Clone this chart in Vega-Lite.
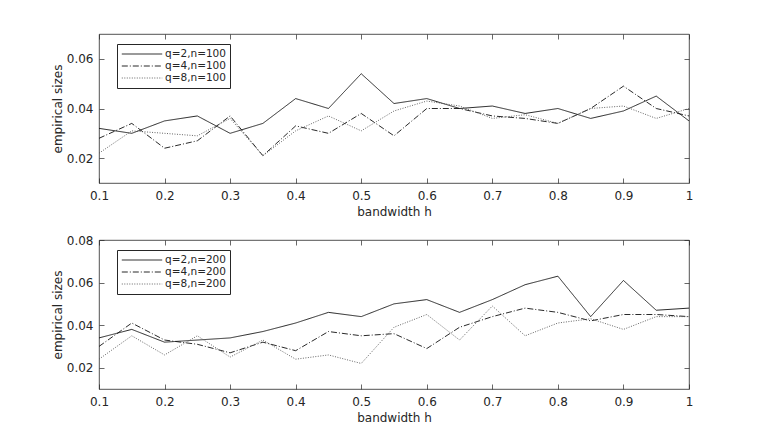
{
  "$schema": "https://vega.github.io/schema/vega-lite/v6.json",
  "padding": {"left": 50, "top": 33, "right": 10, "bottom": 5},
  "background": "white",
  "config": {
    "font": "DejaVu Sans",
    "view": {"stroke": "#262626", "strokeWidth": 0.8},
    "axis": {
      "grid": false, "domain": false, "tickColor": "#262626", "tickWidth": 0.7, "tickSize": -5, "labelFlush": false,
      "labelFontSize": 12, "labelColor": "#262626", "titleFontSize": 12, "titleFontWeight": "normal", "titleColor": "#262626"
    },
    "legend": {
      "orient": "none", "legendX": 18, "legendY": 10, "strokeColor": "#262626", "fillColor": "white",
      "padding": 4, "rowPadding": 0, "symbolType": "M-3.85,0H3.85", "symbolSize": 110, "symbolStrokeWidth": 0.9,
      "symbolOffset": 15, "labelFontSize": 10.5, "labelColor": "#262626", "labelOffset": 17, "title": null
    },
    "line": {"strokeWidth": 0.9}
  },
  "datasets": {
    "top": [
      {"h": 0.1, "series": "q=2,n=100", "size": 0.032}, {"h": 0.15, "series": "q=2,n=100", "size": 0.030},
      {"h": 0.2, "series": "q=2,n=100", "size": 0.035}, {"h": 0.25, "series": "q=2,n=100", "size": 0.037},
      {"h": 0.3, "series": "q=2,n=100", "size": 0.030}, {"h": 0.35, "series": "q=2,n=100", "size": 0.034},
      {"h": 0.4, "series": "q=2,n=100", "size": 0.044}, {"h": 0.45, "series": "q=2,n=100", "size": 0.040},
      {"h": 0.5, "series": "q=2,n=100", "size": 0.054}, {"h": 0.55, "series": "q=2,n=100", "size": 0.042},
      {"h": 0.6, "series": "q=2,n=100", "size": 0.044}, {"h": 0.65, "series": "q=2,n=100", "size": 0.040},
      {"h": 0.7, "series": "q=2,n=100", "size": 0.041}, {"h": 0.75, "series": "q=2,n=100", "size": 0.038},
      {"h": 0.8, "series": "q=2,n=100", "size": 0.040}, {"h": 0.85, "series": "q=2,n=100", "size": 0.036},
      {"h": 0.9, "series": "q=2,n=100", "size": 0.039}, {"h": 0.95, "series": "q=2,n=100", "size": 0.045},
      {"h": 1.0, "series": "q=2,n=100", "size": 0.035},
      {"h": 0.1, "series": "q=4,n=100", "size": 0.028}, {"h": 0.15, "series": "q=4,n=100", "size": 0.034},
      {"h": 0.2, "series": "q=4,n=100", "size": 0.024}, {"h": 0.25, "series": "q=4,n=100", "size": 0.027},
      {"h": 0.3, "series": "q=4,n=100", "size": 0.037}, {"h": 0.35, "series": "q=4,n=100", "size": 0.021},
      {"h": 0.4, "series": "q=4,n=100", "size": 0.033}, {"h": 0.45, "series": "q=4,n=100", "size": 0.030},
      {"h": 0.5, "series": "q=4,n=100", "size": 0.038}, {"h": 0.55, "series": "q=4,n=100", "size": 0.029},
      {"h": 0.6, "series": "q=4,n=100", "size": 0.040}, {"h": 0.65, "series": "q=4,n=100", "size": 0.040},
      {"h": 0.7, "series": "q=4,n=100", "size": 0.037}, {"h": 0.75, "series": "q=4,n=100", "size": 0.036},
      {"h": 0.8, "series": "q=4,n=100", "size": 0.034}, {"h": 0.85, "series": "q=4,n=100", "size": 0.040},
      {"h": 0.9, "series": "q=4,n=100", "size": 0.049}, {"h": 0.95, "series": "q=4,n=100", "size": 0.040},
      {"h": 1.0, "series": "q=4,n=100", "size": 0.037},
      {"h": 0.1, "series": "q=8,n=100", "size": 0.022}, {"h": 0.15, "series": "q=8,n=100", "size": 0.031},
      {"h": 0.2, "series": "q=8,n=100", "size": 0.030}, {"h": 0.25, "series": "q=8,n=100", "size": 0.029},
      {"h": 0.3, "series": "q=8,n=100", "size": 0.036}, {"h": 0.35, "series": "q=8,n=100", "size": 0.021},
      {"h": 0.4, "series": "q=8,n=100", "size": 0.031}, {"h": 0.45, "series": "q=8,n=100", "size": 0.037},
      {"h": 0.5, "series": "q=8,n=100", "size": 0.031}, {"h": 0.55, "series": "q=8,n=100", "size": 0.039},
      {"h": 0.6, "series": "q=8,n=100", "size": 0.043}, {"h": 0.65, "series": "q=8,n=100", "size": 0.041},
      {"h": 0.7, "series": "q=8,n=100", "size": 0.036}, {"h": 0.75, "series": "q=8,n=100", "size": 0.0375},
      {"h": 0.8, "series": "q=8,n=100", "size": 0.034}, {"h": 0.85, "series": "q=8,n=100", "size": 0.040},
      {"h": 0.9, "series": "q=8,n=100", "size": 0.041}, {"h": 0.95, "series": "q=8,n=100", "size": 0.036},
      {"h": 1.0, "series": "q=8,n=100", "size": 0.040}
    ],
    "bottom": [
      {"h": 0.1, "series": "q=2,n=200", "size": 0.034}, {"h": 0.15, "series": "q=2,n=200", "size": 0.038},
      {"h": 0.2, "series": "q=2,n=200", "size": 0.032}, {"h": 0.25, "series": "q=2,n=200", "size": 0.033},
      {"h": 0.3, "series": "q=2,n=200", "size": 0.034}, {"h": 0.35, "series": "q=2,n=200", "size": 0.037},
      {"h": 0.4, "series": "q=2,n=200", "size": 0.041}, {"h": 0.45, "series": "q=2,n=200", "size": 0.046},
      {"h": 0.5, "series": "q=2,n=200", "size": 0.044}, {"h": 0.55, "series": "q=2,n=200", "size": 0.050},
      {"h": 0.6, "series": "q=2,n=200", "size": 0.052}, {"h": 0.65, "series": "q=2,n=200", "size": 0.046},
      {"h": 0.7, "series": "q=2,n=200", "size": 0.052}, {"h": 0.75, "series": "q=2,n=200", "size": 0.059},
      {"h": 0.8, "series": "q=2,n=200", "size": 0.063}, {"h": 0.85, "series": "q=2,n=200", "size": 0.044},
      {"h": 0.9, "series": "q=2,n=200", "size": 0.061}, {"h": 0.95, "series": "q=2,n=200", "size": 0.047},
      {"h": 1.0, "series": "q=2,n=200", "size": 0.048},
      {"h": 0.1, "series": "q=4,n=200", "size": 0.030}, {"h": 0.15, "series": "q=4,n=200", "size": 0.041},
      {"h": 0.2, "series": "q=4,n=200", "size": 0.033}, {"h": 0.25, "series": "q=4,n=200", "size": 0.031},
      {"h": 0.3, "series": "q=4,n=200", "size": 0.027}, {"h": 0.35, "series": "q=4,n=200", "size": 0.032},
      {"h": 0.4, "series": "q=4,n=200", "size": 0.028}, {"h": 0.45, "series": "q=4,n=200", "size": 0.037},
      {"h": 0.5, "series": "q=4,n=200", "size": 0.035}, {"h": 0.55, "series": "q=4,n=200", "size": 0.036},
      {"h": 0.6, "series": "q=4,n=200", "size": 0.029}, {"h": 0.65, "series": "q=4,n=200", "size": 0.039},
      {"h": 0.7, "series": "q=4,n=200", "size": 0.044}, {"h": 0.75, "series": "q=4,n=200", "size": 0.048},
      {"h": 0.8, "series": "q=4,n=200", "size": 0.046}, {"h": 0.85, "series": "q=4,n=200", "size": 0.042},
      {"h": 0.9, "series": "q=4,n=200", "size": 0.045}, {"h": 0.95, "series": "q=4,n=200", "size": 0.045},
      {"h": 1.0, "series": "q=4,n=200", "size": 0.044},
      {"h": 0.1, "series": "q=8,n=200", "size": 0.024}, {"h": 0.15, "series": "q=8,n=200", "size": 0.035},
      {"h": 0.2, "series": "q=8,n=200", "size": 0.026}, {"h": 0.25, "series": "q=8,n=200", "size": 0.035},
      {"h": 0.3, "series": "q=8,n=200", "size": 0.025}, {"h": 0.35, "series": "q=8,n=200", "size": 0.033},
      {"h": 0.4, "series": "q=8,n=200", "size": 0.024}, {"h": 0.45, "series": "q=8,n=200", "size": 0.026},
      {"h": 0.5, "series": "q=8,n=200", "size": 0.022}, {"h": 0.55, "series": "q=8,n=200", "size": 0.039},
      {"h": 0.6, "series": "q=8,n=200", "size": 0.045}, {"h": 0.65, "series": "q=8,n=200", "size": 0.033},
      {"h": 0.7, "series": "q=8,n=200", "size": 0.049}, {"h": 0.75, "series": "q=8,n=200", "size": 0.035},
      {"h": 0.8, "series": "q=8,n=200", "size": 0.041}, {"h": 0.85, "series": "q=8,n=200", "size": 0.043},
      {"h": 0.9, "series": "q=8,n=200", "size": 0.038}, {"h": 0.95, "series": "q=8,n=200", "size": 0.044},
      {"h": 1.0, "series": "q=8,n=200", "size": 0.044}
    ]
  },
  "bounds": "flush",
  "spacing": 57,
  "vconcat": [
    {
      "width": 590,
      "height": 149,
      "data": {"name": "top"},
      "resolve": {"axis": {"x": "independent", "y": "independent"}},
      "layer": [
        {
          "mark": {"type": "line"},
          "encoding": {
            "x": {"field": "h", "type": "quantitative", "scale": {"domain": [0.1, 1], "nice": false},
                  "axis": {"title": "bandwidth h", "values": [0.1, 0.2, 0.3, 0.4, 0.5, 0.6, 0.7, 0.8, 0.9, 1], "format": "~g", "labelPadding": 12.5, "titlePadding": 4.5}},
            "y": {"field": "size", "type": "quantitative", "scale": {"domain": [0.01, 0.07], "nice": false, "zero": false},
                  "axis": {"title": "empirical sizes", "values": [0.02, 0.04, 0.06], "format": ".2f", "labelPadding": 11, "titlePadding": 2}},
            "color": {"field": "series", "type": "nominal", "scale": {"range": ["#111111", "#111111", "#555555"]}},
            "strokeDash": {"field": "series", "type": "nominal", "scale": {"range": [[1, 0], [6, 2, 1, 2], [1, 1.5]]}}
          }
        },
        {
          "mark": {"type": "point", "opacity": 0},
          "encoding": {
            "x": {"field": "h", "type": "quantitative", "axis": {"orient": "top", "labels": false, "title": null, "values": [0.1, 0.2, 0.3, 0.4, 0.5, 0.6, 0.7, 0.8, 0.9, 1]}},
            "y": {"field": "size", "type": "quantitative", "axis": {"orient": "right", "labels": false, "title": null, "values": [0.02, 0.04, 0.06]}}
          }
        }
      ]
    },
    {
      "width": 590,
      "height": 149,
      "data": {"name": "bottom"},
      "resolve": {"axis": {"x": "independent", "y": "independent"}},
      "layer": [
        {
          "mark": {"type": "line"},
          "encoding": {
            "x": {"field": "h", "type": "quantitative", "scale": {"domain": [0.1, 1], "nice": false},
                  "axis": {"title": "bandwidth h", "values": [0.1, 0.2, 0.3, 0.4, 0.5, 0.6, 0.7, 0.8, 0.9, 1], "format": "~g", "labelPadding": 12.5, "titlePadding": 4.5}},
            "y": {"field": "size", "type": "quantitative", "scale": {"domain": [0.01, 0.08], "nice": false, "zero": false},
                  "axis": {"title": "empirical sizes", "values": [0.02, 0.04, 0.06, 0.08], "format": ".2f", "labelPadding": 11, "titlePadding": 2}},
            "color": {"field": "series", "type": "nominal", "scale": {"range": ["#111111", "#111111", "#555555"]}},
            "strokeDash": {"field": "series", "type": "nominal", "scale": {"range": [[1, 0], [6, 2, 1, 2], [1, 1.5]]}}
          }
        },
        {
          "mark": {"type": "point", "opacity": 0},
          "encoding": {
            "x": {"field": "h", "type": "quantitative", "axis": {"orient": "top", "labels": false, "title": null, "values": [0.1, 0.2, 0.3, 0.4, 0.5, 0.6, 0.7, 0.8, 0.9, 1]}},
            "y": {"field": "size", "type": "quantitative", "axis": {"orient": "right", "labels": false, "title": null, "values": [0.02, 0.04, 0.06, 0.08]}}
          }
        }
      ]
    }
  ],
  "resolve": {"scale": {"color": "independent", "strokeDash": "independent"}, "legend": {"color": "independent", "strokeDash": "independent"}}
}
